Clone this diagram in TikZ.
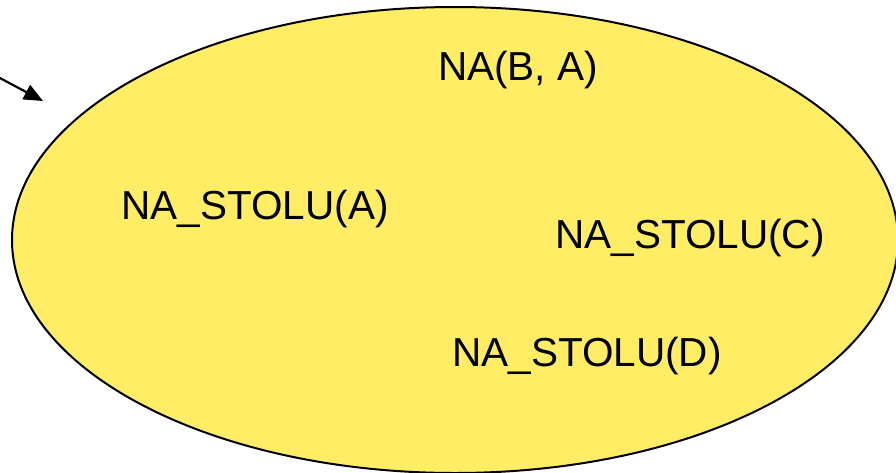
\documentclass[tikz,border=0pt]{standalone}
\usepackage{fontspec}
\setmainfont{Liberation Sans}
\usetikzlibrary{arrows.meta,shapes.geometric}
\definecolor{setyellow}{RGB}{255,237,102}
\begin{document}
\begin{tikzpicture}[x=1pt,y=-1pt,
  fact/.style={font=\fontsize{40.5}{44}\selectfont, inner sep=0pt, anchor=center},
  pointer/.style={line width=2.2pt, -{Triangle[length=19pt,width=16pt]}}]
  \useasboundingbox (0,0) rectangle (896,472);
  \begin{scope}
    \clip (0,0) rectangle (896,472);
    \node[draw=black, line width=2pt, fill=setyellow, ellipse, minimum width=886pt, minimum height=466pt, inner sep=0pt] (state) at (455,240) {};
  \end{scope}
  \node[fact] (onba) at (518,70) {NA(B, A)};
  \node[fact] (ontablea) at (255,209) {NA\_STOLU(A)};
  \node[fact] (ontablec) at (690,238) {NA\_STOLU(C)};
  \node[fact] (ontabled) at (587,356) {NA\_STOLU(D)};
  \coordinate (from) at (-2,77);
  \coordinate (tip) at (43,101);
  \draw[pointer] (from) -- (tip);
\end{tikzpicture}
\end{document}
